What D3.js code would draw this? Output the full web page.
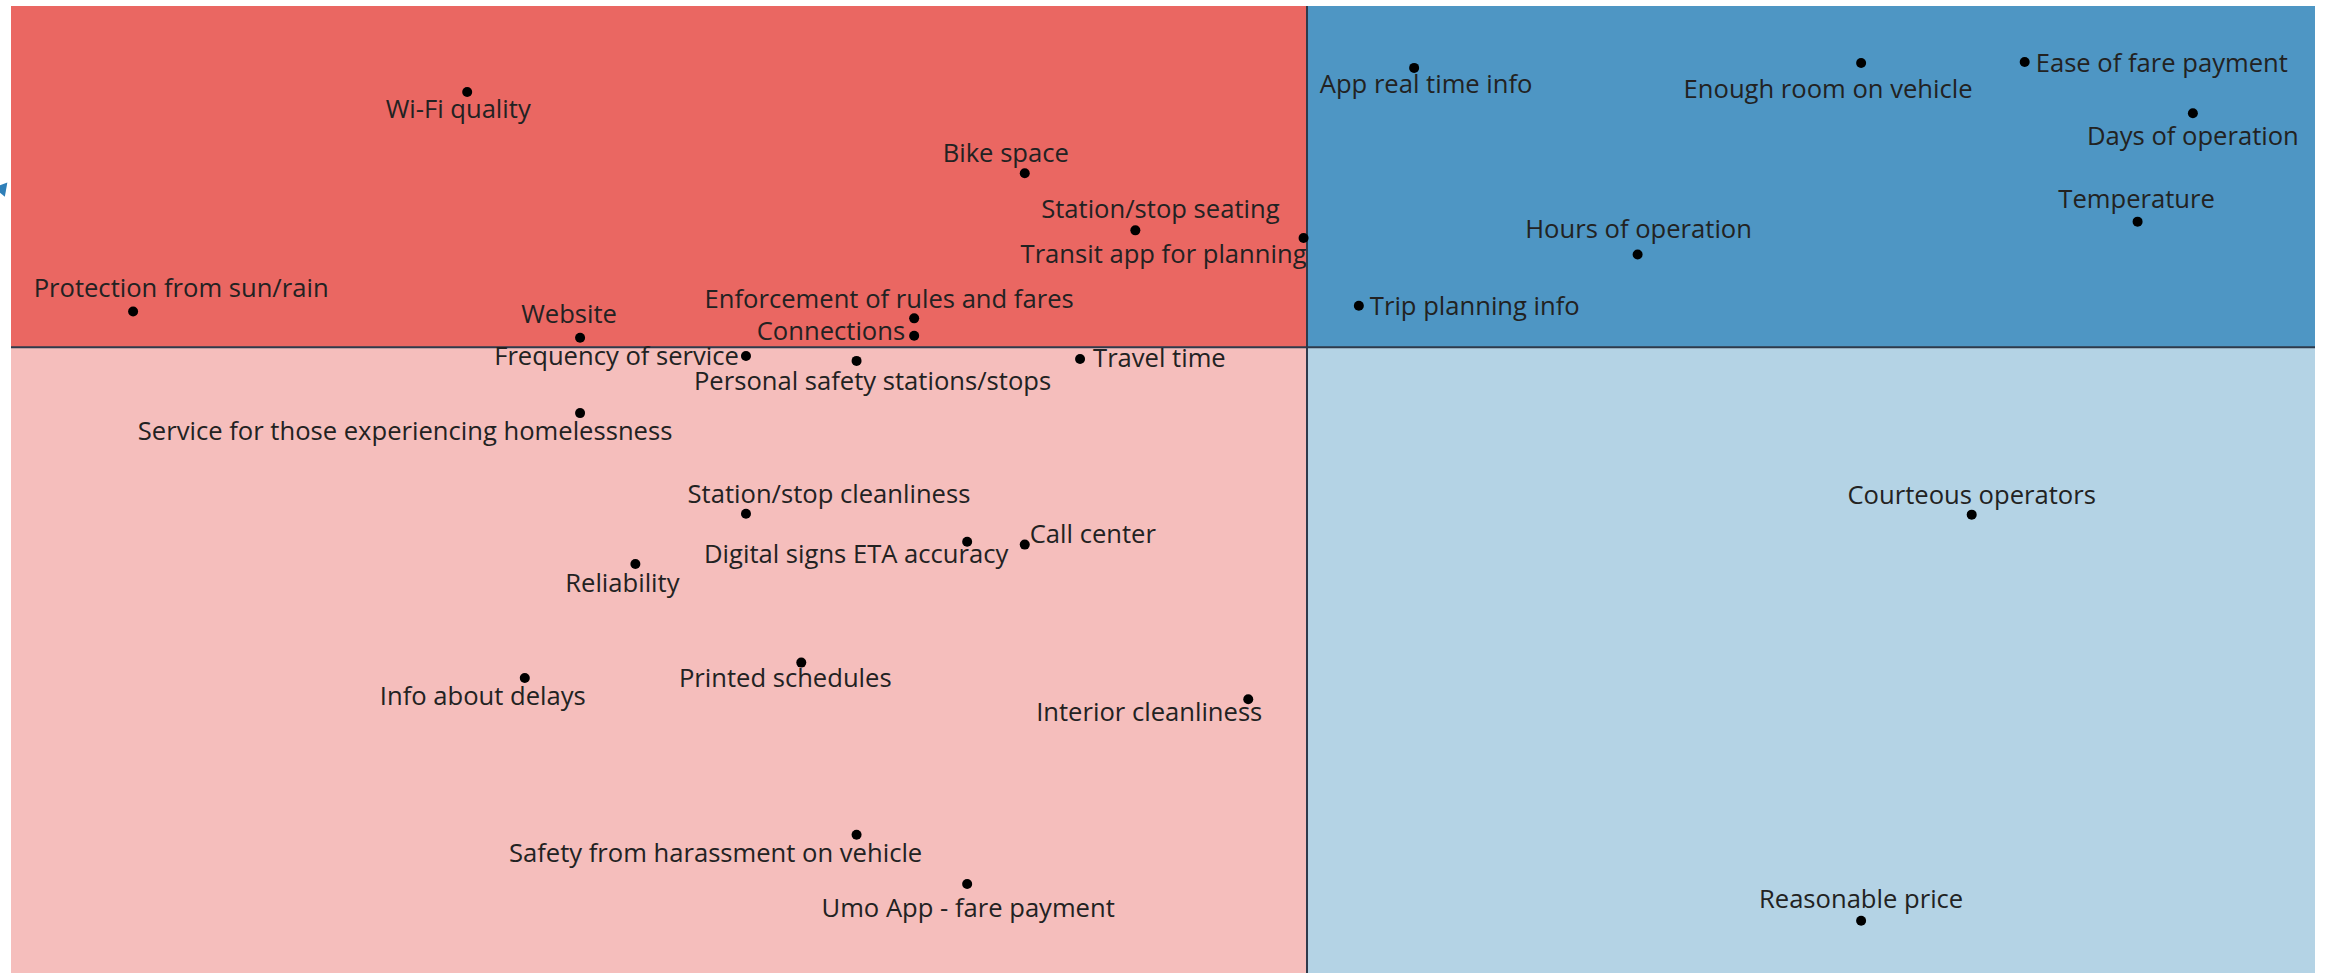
<!DOCTYPE html>
<html>
<head>
<meta charset="utf-8">
<script src="https://cdn.jsdelivr.net/npm/d3@7"></script>
<style>
  body { margin: 0; background: #fff; }
  svg text { font-family: "Open Sans", sans-serif; }
</style>
</head>
<body>
<div id="chart"></div>
<script>
// attribute names, x = importance, y = satisfaction (0-100 index)
const attributes = [
  "Wi-Fi quality", "Protection from sun/rain", "Website", "Bike space",
  "Station/stop seating", "Transit app for planning", "Enforcement of rules and fares",
  "Connections", "App real time info", "Enough room on vehicle", "Ease of fare payment",
  "Days of operation", "Temperature", "Hours of operation", "Trip planning info",
  "Frequency of service", "Personal safety stations/stops", "Travel time",
  "Service for those experiencing homelessness", "Station/stop cleanliness",
  "Digital signs ETA accuracy", "Call center", "Reliability", "Printed schedules",
  "Info about delays", "Interior cleanliness", "Safety from harassment on vehicle",
  "Umo App - fare payment", "Courteous operators", "Reasonable price"
];
const xValues = [
  19.8, 5.3, 24.7, 44.0, 48.8, 56.1, 39.2, 39.2, 60.9, 80.3, 87.4, 94.7, 92.3, 70.6, 58.5,
  31.9, 36.7, 46.4, 24.7, 31.9, 41.5, 44.0, 27.1, 34.3, 22.3, 53.7, 36.7, 41.5, 85.1, 80.3
];
const yValues = [
  91.1, 68.4, 65.7, 82.7, 76.8, 76.0, 67.7, 65.9, 93.6, 94.1, 94.2, 88.9, 77.7, 74.3, 69.0,
  63.8, 63.3, 63.5, 57.9, 47.5, 44.6, 44.3, 42.3, 32.1, 30.5, 28.3, 14.3, 9.2, 47.4, 5.4
];
const xSplit = 56.25;
const ySplit = 64.7;

// label placement: [anchor, dx, dy] relative to the dot
const labelPos = [
  ["middle", -9, 26], ["middle", 48, -15], ["middle", -11, -15], ["middle", -19, -11],
  ["middle", 25, -12], ["end", 3, 25], ["middle", -25, -10], ["end", -9, 4],
  ["middle", 12, 25], ["middle", -33, 35], ["start", 11, 10], ["middle", 0, 32],
  ["middle", -1, -14], ["middle", 1, -17], ["start", 11, 9], ["end", -7, 9],
  ["middle", 16, 29], ["start", 13, 8], ["middle", -175, 27], ["middle", 83, -11],
  ["middle", -111, 21], ["start", 5, -2], ["middle", -13, 28], ["middle", -16, 24],
  ["middle", -42, 27], ["middle", -99, 22], ["middle", -141, 27], ["middle", 1, 33],
  ["middle", 0, -11], ["middle", 0, -13]
];

const data = attributes.map((name, i) => ({name: name, x: xValues[i], y: yValues[i], pos: labelPos[i]}));

const W = 2326, H = 973;
const svg = d3.select("#chart").append("svg")
  .attr("width", W)
  .attr("height", H);

const x = d3.scaleLinear().domain([0, 100]).range([11, 2315]);
const y = d3.scaleLinear().domain([0, 100]).range([973, 6]);

// quadrants
const quads = [
  {x0: 0, x1: xSplit, y0: ySplit, y1: 100, fill: "#ea6762"},
  {x0: xSplit, x1: 100, y0: ySplit, y1: 100, fill: "#4e96c4"},
  {x0: 0, x1: xSplit, y0: 0, y1: ySplit, fill: "#f5bebc"},
  {x0: xSplit, x1: 100, y0: 0, y1: ySplit, fill: "#b4d3e5"}
];
svg.append("g").selectAll("rect")
  .data(quads)
  .enter().append("rect")
  .attr("x", d => x(d.x0))
  .attr("y", d => y(d.y1))
  .attr("width", d => x(d.x1) - x(d.x0))
  .attr("height", d => y(d.y0) - y(d.y1))
  .attr("fill", d => d.fill);

// split lines
svg.append("line")
  .attr("x1", x(xSplit)).attr("x2", x(xSplit))
  .attr("y1", y(100)).attr("y2", y(0))
  .attr("stroke", "#2e3a4b").attr("stroke-width", 2);
svg.append("line")
  .attr("x1", x(0)).attr("x2", x(100))
  .attr("y1", y(ySplit)).attr("y2", y(ySplit))
  .attr("stroke", "#2e3a4b").attr("stroke-width", 2);

// bit of the axis arrow sticking out on the left
svg.append("path")
  .attr("d", d3.symbol(d3.symbolTriangle, 90)())
  .attr("transform", "translate(2,189) rotate(40)")
  .attr("fill", "#2f7fb8");

const pts = svg.append("g");
pts.selectAll("circle")
  .data(data)
  .enter().append("circle")
  .attr("cx", d => x(d.x))
  .attr("cy", d => y(d.y))
  .attr("r", 5)
  .attr("fill", "#000");

pts.selectAll("text")
  .data(data)
  .enter().append("text")
  .attr("x", d => x(d.x) + d.pos[1])
  .attr("y", d => y(d.y) + d.pos[2])
  .attr("text-anchor", d => d.pos[0])
  .attr("font-size", 25.6)
  .attr("fill", "#222")
  .text(d => d.name);
</script>
</body>
</html>
